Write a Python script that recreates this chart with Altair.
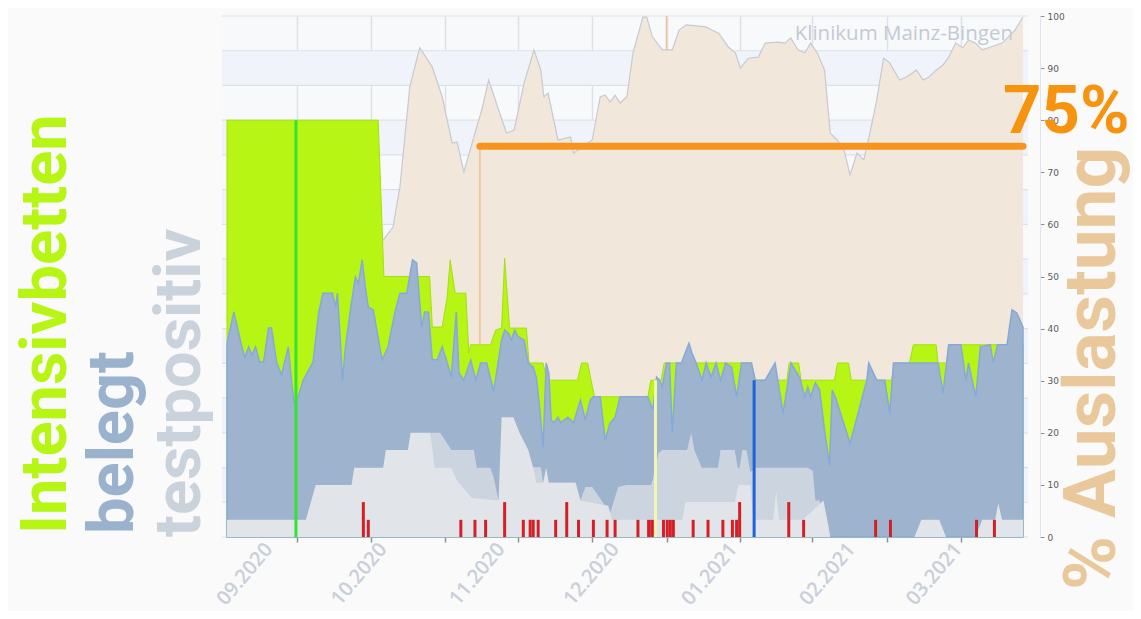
import altair as alt
import pandas as pd

# ---------------- data (day index counted from 21.08.2020) ----------------
TAG_MAX = 209

MONAT_TAG = [11, 41, 72, 102, 133, 164, 192]
MONAT_TEXT = ["09.2020", "10.2020", "11.2020", "12.2020", "01.2021", "02.2021", "03.2021"]
RASTER_TAG = [18.4, 37.8, 57.3, 76.5, 95.9, 115.4, 134.6, 153.7, 173.2, 192.6]
Y_WERTE = [0, 10, 20, 30, 40, 50, 60, 70, 80, 90, 100]
RASTER_Y = [k * 100 / 15 for k in range(16)]

# % Auslastung (beige area)
AUSL_TAG = [41.0, 43.6, 45.4, 48.0, 50.6, 53.9, 56.5, 59.1, 60.4, 62.2, 65.1, 66.9, 68.7, 71.3,
            73.4, 75.4, 78.0, 80.6, 82.4, 83.2, 84.3, 86.9, 90.2, 91.0, 95.9, 98.0, 99.3, 100.6,
            101.9, 103.2, 105.0, 106.6, 109.2, 110.2, 111.7, 114.3, 116.9, 118.7, 120.6, 125.7,
            127.3, 129.1, 131.7, 133.5, 134.8, 136.9, 139.5, 141.3, 144.7, 146.5, 148.0, 149.9,
            151.7, 153.2, 155.0, 156.9, 158.4, 160.2, 162.0, 163.6, 165.4, 167.2, 168.8, 170.6,
            172.4, 174.0, 176.6, 178.4, 181.0, 182.8, 184.3, 186.2, 188.0, 189.5, 191.3, 193.2,
            194.7, 196.5, 198.3, 199.9, 203.5, 206.9, 209.0]
AUSL_WERT = [57.0, 59.5, 67.2, 86.4, 93.9, 90.2, 84.5, 75.6, 75.8, 70.1, 77.5, 82.0, 87.7, 82.0,
             77.5, 78.1, 87.1, 93.5, 89.6, 84.5, 85.2, 76.2, 76.8, 73.7, 76.2, 84.5, 84.8, 83.5,
             84.8, 83.3, 84.5, 92.9, 99.8, 99.8, 96.0, 93.5, 93.5, 97.3, 98.3, 97.9,
             97.3, 96.7, 94.0, 92.9, 90.0, 91.9, 92.1, 94.8, 95.0, 94.8, 95.8, 93.5,
             92.9, 94.8, 92.9, 89.6, 77.5, 76.2, 74.3, 69.5, 73.7, 72.4, 77.5, 83.9,
             91.9, 91.0, 87.7, 88.3, 89.6, 87.7, 88.3, 89.6, 90.6, 92.1, 94.8, 93.9,
             95.4, 94.8, 93.5, 93.9, 94.8, 97.3, 99.8]

# Intensivbetten (green area)
BETTEN_TAG = [0, 39.7, 41.2, 53.2, 53.9, 56.5, 57.8, 58.6, 59.9, 62.7, 63.5, 64.0, 69.2, 70.5,
              72.1, 72.9, 74.2, 78.6, 79.3, 83.0, 84.0, 92.0, 93.1, 94.7, 95.6, 96.5, 110.5,
              111.3, 114.0, 114.8, 137.7, 138.7, 147.0, 147.6, 150.1, 150.7, 159.5, 160.3,
              163.2, 163.9, 174.5, 175.3, 179.2, 180.2, 186.2, 186.7, 189.0, 189.5, 209.0]
BETTEN_WERT = [80, 80, 50, 50, 40.3, 40.3, 46, 53.2, 46.8, 46.8, 35.3, 36.9, 36.9, 39.7,
               40.1, 53.5, 40.1, 40.1, 33.4, 33.4, 30.1, 30.1, 33.4, 33.4, 30.1, 26.9, 26.9,
               30.1, 30.1, 33.4, 33.4, 30.1, 30.1, 33.4, 33.4, 30.1, 30.1, 33.4,
               33.4, 30.1, 30.1, 33.4, 33.4, 36.9, 36.9, 33.4, 33.4, 36.9, 36.9]

# belegt (blue area)
BELEGT_TAG = [0.0, 1.8, 3.9, 4.7, 5.7, 6.5, 7.5, 8.6, 9.6, 10.9, 11.7, 13.0, 14.3, 16.1, 16.9,
              17.6, 18.7, 20.0, 22.6, 24.1, 25.2, 27.7, 28.5, 29.0, 29.8, 30.3, 31.1, 32.4,
              33.7, 34.5, 35.5, 36.3, 37.1, 38.4, 40.7, 42.3, 44.1, 45.4, 47.2, 48.7, 49.8,
              51.1, 51.9, 52.9, 53.9, 55.2, 56.5, 57.6, 58.9, 60.2, 60.9, 62.2, 64.0, 65.3,
              66.6, 68.2, 70.0, 72.1, 72.9, 73.9, 74.7, 75.5, 76.5, 78.0, 79.1, 80.4, 81.2,
              81.9, 83.0, 83.8, 84.5, 85.1, 85.8, 86.9, 87.6, 89.5, 91.0, 92.8, 94.1, 95.4,
              96.2, 98.0, 99.3, 100.6, 101.9, 103.2, 110.5, 111.8, 112.8, 113.6, 114.3, 115.4,
              116.2, 116.9, 118.0, 119.3, 120.6, 121.3, 122.1, 123.2, 124.7, 125.8, 127.1,
              128.4, 129.6, 130.9, 132.5, 133.8, 135.1, 137.7, 138.7, 141.3, 143.9, 146.0,
              148.1, 150.4, 151.7, 152.5, 153.2, 154.5, 155.6, 156.9, 158.2, 158.9, 159.7,
              163.6, 168.0, 168.5, 170.6, 172.7, 174.0, 175.0, 179.2, 183.6, 186.7, 188.0,
              189.5, 192.7, 194.0, 194.7, 196.6, 197.8, 200.4, 201.2, 202.3, 204.8, 206.1,
              207.4, 209.0]
BELEGT_WERT = [37.2, 43.2, 36.5, 34.5, 36.5, 34.9, 36.5, 33.6, 33.6, 40.1, 40.1, 33.6, 31.1, 36.5, 30.1,
               25.7, 26.9, 30.1, 33.6, 43.2, 46.8, 46.8, 44.1, 46.8, 37.2, 30.1, 36.5, 43.6,
               49.9, 48.7, 53.2, 48.0, 44.1, 43.6, 34.0, 36.5, 43.2, 46.8, 46.8, 53.2, 52.6,
               40.3, 43.2, 43.2, 34.0, 34.0, 36.5, 34.0, 30.7, 43.2, 31.5, 30.1, 34.0, 30.1,
               33.4, 33.4, 28.0, 37.8, 39.7, 39.1, 37.8, 39.7, 38.4, 37.8, 33.4, 32.6, 30.7,
               26.3, 17.3, 33.4, 31.5, 22.5, 21.9, 23.0, 21.9, 23.0, 21.9, 26.3, 22.5, 26.3,
               26.9, 26.9, 18.6, 21.9, 23.0, 26.9, 26.9, 24.4, 30.7, 30.1, 28.8, 33.4,
               33.4, 20.0, 33.4, 33.4, 35.9, 37.2, 35.3, 33.4, 30.1, 33.4, 30.7,
               33.4, 30.1, 33.4, 32.6, 26.9, 33.4, 33.4, 30.1, 30.1, 33.4, 23.8,
               33.4, 30.5, 26.9, 28.8, 26.9, 29.6, 28.2, 20.5, 13.8, 28.2, 26.9,
               18.0, 30.1, 33.4, 30.1, 30.1, 23.8, 33.4, 33.4, 33.4, 33.4, 27.6,
               36.9, 36.9, 30.1, 33.4, 26.9, 36.5, 36.9, 33.4, 36.9, 36.9, 43.6,
               43.0, 40.3]

# testpositiv (two light grey areas)
TEST_A_TAG = [0, 20.7, 23.3, 32.7, 33.4, 41.0, 41.7, 47.5, 48.2, 53.4, 54.5, 58.9, 60.4, 64.3,
              71.3, 72.1, 75.2, 76.8, 79.1, 80.4, 81.2, 83.0, 83.8, 84.5, 91.5, 92.8, 100.1,
              101.1, 119.5, 120.4, 133.3, 134.3, 137.4, 138.2, 143.4, 144.2, 144.9, 151.2,
              156.6, 157.6, 158.4, 180.5, 182.3, 187.0, 188.8, 196.5, 198.3, 201.7, 202.5,
              203.5, 209.0]
TEST_A_WERT = [3.3, 3.3, 10.0, 10.0, 13.3, 13.3, 16.7, 16.7, 20.0, 20.0, 13.3, 13.3, 10.8, 7.5,
               7.0, 23.0, 23.0, 20.0, 16.7, 13.3, 10.4, 10.4, 13.3, 10.4, 10.4, 7.0, 6.0,
               3.3, 3.3, 6.7, 6.7, 10.0, 10.0, 3.3, 3.3, 9.0, 3.3, 3.3,
               7.0, 3.3, 0, 0, 3.3, 3.3, 0, 0, 3.3, 3.3, 6.5,
               3.3, 3.3]
TEST_B_TAG = [53.4, 56.0, 58.9, 64.8, 65.6, 69.2, 70.0, 71.3, 72.1, 79.8, 82.4, 83.0, 91.5,
              92.8, 94.1, 95.9, 100.6, 102.7, 104.8, 111.3, 111.8, 113.3, 114.3, 120.8, 121.9,
              122.7, 124.7, 128.9, 129.6, 133.3, 134.1, 134.6, 135.3, 136.4, 137.4, 139.0,
              147.8, 152.5, 153.8, 154.5, 155.6, 156.6, 157.6]
TEST_B_WERT = [20.0, 20.0, 16.7, 16.7, 13.3, 13.3, 11.5, 7.0, 7.0, 13.4, 13.4, 10.4, 10.4,
               7.0, 9.6, 9.6, 4.6, 9.6, 10.0, 10.0, 11.0, 16.1, 16.7, 16.7, 20.0,
               16.7, 13.3, 13.3, 16.7, 16.7, 13.3, 13.3, 16.7, 16.7, 12.5, 13.3,
               13.3, 13.3, 12.7, 7.0, 7.0, 3.3, 0]

# red daily bars
ROT_TAG = [35.8, 37.1, 61.4, 65.1, 67.9, 72.9, 77.8, 79.6, 80.4, 81.7, 86.3, 89.2, 92.3, 96.2,
           99.8, 101.9, 107.9, 110.7, 111.5, 112.3, 114.6, 115.6, 116.4, 117.2, 122.4, 126.3,
           130.2, 132.7, 133.8, 134.6, 147.5, 151.4, 170.3, 174.2, 196.8, 201.5]
ROT_WERT = [6.7, 3.3, 3.3, 3.3, 3.3, 6.7, 3.3, 3.3, 3.3, 3.3, 3.3, 6.7, 3.3, 3.3,
            3.3, 3.3, 3.3, 3.3, 3.3, 3.3, 3.3, 3.3, 3.3, 3.3, 3.3, 3.3,
            3.3, 3.3, 3.3, 6.7, 6.7, 3.3, 3.3, 3.3, 3.3, 3.3]

# vertical marker lines
MARKE_TAG = [18.1, 112.5, 138.4]
MARKE_BIS = [80, 30.1, 30.1]
DUENN_TAG = [66.4, 115.4]
DUENN_VON = [0, 93.5]
DUENN_BIS = [75, 100]

# 75 % target line
ZIEL_VON = 66.4
ZIEL_WERT = 75

# ---------------- encodings ----------------
XS = alt.Scale(domain=[0, TAG_MAX], nice=False, zero=False)
YS = alt.Scale(domain=[0, 100], nice=False)
X_AXIS = alt.Axis(values=RASTER_TAG, labels=False, ticks=True, tickSize=5, tickColor="#8b9097",
                  tickWidth=1.5, grid=True, gridColor="#dde2ea", gridWidth=1.5, domain=False,
                  title=None)
Y_AXIS = alt.Axis(orient="right", values=Y_WERTE, offset=12, tickSize=4, tickColor="#8b9097",
                  domainColor="#e1e5eb", labelFontSize=9, labelColor="#555b63",
                  labelFont="DejaVu Sans", labelPadding=3, grid=False, title=None)


def X(f="tag"):
    return alt.X(f"{f}:Q", scale=XS, axis=X_AXIS)


def Y(f="wert"):
    return alt.Y(f"{f}:Q", scale=YS, axis=Y_AXIS)


def frame(t, w):
    return pd.DataFrame({"tag": t, "wert": w})


TITLE_FONT = "Roboto"

# background bands & grid
bands = alt.Chart(pd.DataFrame({"lo": RASTER_Y[1:15:2], "hi": RASTER_Y[2:16:2]})).mark_rect(
    color="#f0f4fa").encode(y=Y("lo"), y2="hi")
hgrid = alt.Chart(pd.DataFrame({"wert": RASTER_Y})).mark_rule(
    color="#dce1e8", strokeWidth=1.2).encode(y=Y())

ausl_area = alt.Chart(frame(AUSL_TAG, AUSL_WERT)).mark_area(color="#f2e7db", opacity=1).encode(x=X(), y=Y())
ausl_line = alt.Chart(frame(AUSL_TAG, AUSL_WERT)).mark_line(color="#c6cad1", strokeWidth=1.2).encode(x=X(), y=Y())

duenn = alt.Chart(pd.DataFrame({"tag": DUENN_TAG, "von": DUENN_VON, "bis": DUENN_BIS})).mark_rule(
    color="#efc08c", strokeWidth=1.5).encode(x=X(), y=Y("von"), y2="bis")

betten = alt.Chart(frame(BETTEN_TAG, BETTEN_WERT)).mark_area(
    color="#b6f514", stroke="#a4e010", strokeWidth=1, opacity=1).encode(x=X(), y=Y())

belegt = alt.Chart(frame(BELEGT_TAG, BELEGT_WERT)).mark_area(
    color="#9db3ce", stroke="#86a9d9", strokeWidth=1.5, opacity=1).encode(x=X(), y=Y())

test_b = alt.Chart(frame(TEST_B_TAG, TEST_B_WERT)).mark_area(color="#cbd4df", opacity=1).encode(x=X(), y=Y())
test_a = alt.Chart(frame(TEST_A_TAG, TEST_A_WERT)).mark_area(color="#e1e4e8", opacity=1).encode(x=X(), y=Y())

rot = alt.Chart(frame(ROT_TAG, ROT_WERT)).mark_bar(width=3, color="#d51f26").encode(x=X(), y=Y())

marke_df = pd.DataFrame({"tag": MARKE_TAG, "von": [0] * len(MARKE_TAG), "bis": MARKE_BIS,
                         "farbe": ["#34e334", "#f3f6b2", "#1d63dc"]})
marken = alt.Chart(marke_df).mark_rule(strokeWidth=3).encode(
    x=X(), y=Y("von"), y2="bis", color=alt.Color("farbe:N", scale=None))

ziel = alt.Chart(pd.DataFrame({"tag": [ZIEL_VON], "bis": [TAG_MAX], "wert": [ZIEL_WERT]})).mark_rule(
    color="#f7941d", strokeWidth=7, strokeCap="round").encode(x=X(), x2="bis", y=Y())

ziel_text = alt.Chart(pd.DataFrame({"tag": [TAG_MAX], "wert": [ZIEL_WERT], "t": ["75%"]})).mark_text(
    align="left", baseline="alphabetic", dx=-20, dy=-13, fontSize=67, fontWeight="bold",
    font=TITLE_FONT, color="#f6930f").encode(x=X(), y=Y(), text="t:N")

klinik = alt.Chart(pd.DataFrame({"tag": [TAG_MAX], "wert": [100], "t": ["Klinikum Mainz-Bingen"]})).mark_text(
    align="right", baseline="top", dx=-10, dy=8, fontSize=20.5, font="Open Sans",
    color="#c3cad4").encode(x=X(), y=Y(), text="t:N")

monate = alt.Chart(pd.DataFrame({"tag": MONAT_TAG, "t": MONAT_TEXT})).mark_text(
    angle=310, align="right", baseline="middle", fontSize=20, fontWeight=600, font="Open Sans",
    color="#c9cfd8").encode(x=X(), y=alt.value(530), text="t:N")


def titel(text, x, y, size, color):
    return alt.Chart(pd.DataFrame({"t": [text]})).mark_text(
        angle=270, align="left", baseline="alphabetic", fontSize=size, fontWeight="bold",
        font=TITLE_FONT, color=color).encode(x=alt.value(x), y=alt.value(y), text="t:N")


t1 = titel("Intensivbetten", -156, 518, 65, "#b6f514")
t2 = titel("belegt", -89, 518, 65, "#9bb2cf")
t3 = titel("testpositiv", -22, 521, 65, "#cad2dc")
t4 = titel("% Auslastung", 893, 574, 73, "#e9c99c")

chart = alt.layer(
    bands, hgrid, ausl_area, ausl_line, duenn, betten, belegt, test_b, test_a, rot, marken,
    ziel, ziel_text, klinik, monate, t1, t2, t3, t4
).properties(
    width=806, height=521,
    padding={"left": 214, "top": 8, "right": 105, "bottom": 74},
    autosize=alt.AutoSizeParams(type="none"),
).configure(background="#fafafa").configure_view(fill="#f8f9fb", stroke=None)

chart.save("out.html", embed_options={"renderer": "svg", "actions": False})
